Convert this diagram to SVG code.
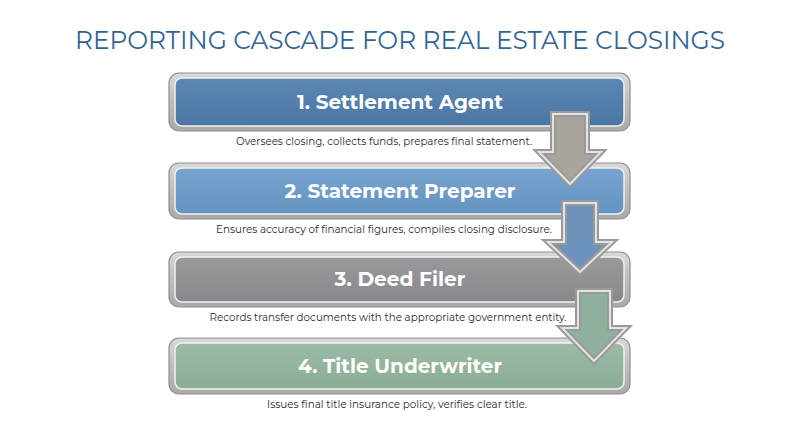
<svg xmlns="http://www.w3.org/2000/svg" width="800" height="447" viewBox="0 0 800 447">
<defs>
<linearGradient id="silver" x1="0" y1="0" x2="0" y2="1">
<stop offset="0" stop-color="#d9d9d9"/><stop offset="0.5" stop-color="#bdbdbd"/><stop offset="1" stop-color="#a9a9a9"/>
</linearGradient>
<linearGradient id="g1" x1="0" y1="0" x2="0" y2="1"><stop offset="0" stop-color="#5d87b3"/><stop offset="1" stop-color="#4b76a4"/></linearGradient>
<linearGradient id="g2" x1="0" y1="0" x2="0" y2="1"><stop offset="0" stop-color="#77a3cf"/><stop offset="1" stop-color="#6594c2"/></linearGradient>
<linearGradient id="g3" x1="0" y1="0" x2="0" y2="1"><stop offset="0" stop-color="#9a9a9e"/><stop offset="1" stop-color="#88888c"/></linearGradient>
<linearGradient id="g4" x1="0" y1="0" x2="0" y2="1"><stop offset="0" stop-color="#9cbba6"/><stop offset="1" stop-color="#8aac96"/></linearGradient>
</defs>
<style>
.frame{fill:url(#silver);stroke:#8f8f8f;stroke-width:1.2}
.inner{stroke:#f2f2f2;stroke-width:1.5}
.label{font-family:Montserrat,Inter,"Open Sans",sans-serif;font-weight:700;font-size:20px;fill:#ffffff;text-anchor:middle}
.desc{font-family:Montserrat,Inter,"Open Sans",sans-serif;font-size:11px;fill:#2b2b2b;text-anchor:middle}
.title{font-family:Montserrat,Inter,"Open Sans",sans-serif;font-size:26px;fill:#2f6596;text-anchor:middle}
.aout{stroke:#9a9a9a;stroke-width:6;stroke-linejoin:miter}
.ain{fill:none;stroke:#e4e4e4;stroke-width:2;stroke-linejoin:miter}
</style>
<rect width="800" height="447" fill="#ffffff"/>
<text class="title" x="400" y="49" textLength="650" lengthAdjust="spacingAndGlyphs">REPORTING CASCADE FOR REAL ESTATE CLOSINGS</text>

<g id="node1">
<rect class="frame" x="169" y="73" width="461" height="58" rx="10"/>
<rect class="inner" x="175" y="78" width="449" height="48" rx="7" fill="url(#g1)"/>
<text class="label" x="400" y="109" textLength="206" lengthAdjust="spacingAndGlyphs">1. Settlement Agent</text>
<text class="desc" x="384" y="145" textLength="296" lengthAdjust="spacingAndGlyphs">Oversees closing, collects funds, prepares final statement.</text>
</g>
<g id="node2">
<rect class="frame" x="169" y="163" width="461" height="56" rx="10"/>
<rect class="inner" x="175" y="168" width="449" height="46" rx="7" fill="url(#g2)"/>
<text class="label" x="400" y="198" textLength="231" lengthAdjust="spacingAndGlyphs">2. Statement Preparer</text>
<text class="desc" x="384" y="233" textLength="336" lengthAdjust="spacingAndGlyphs">Ensures accuracy of financial figures, compiles closing disclosure.</text>
</g>
<g id="node3">
<rect class="frame" x="169" y="252" width="461" height="55" rx="10"/>
<rect class="inner" x="175" y="257" width="449" height="45" rx="7" fill="url(#g3)"/>
<text class="label" x="400" y="286" textLength="131" lengthAdjust="spacingAndGlyphs">3. Deed Filer</text>
<text class="desc" x="388" y="321" textLength="357" lengthAdjust="spacingAndGlyphs">Records transfer documents with the appropriate government entity.</text>
</g>
<g id="node4">
<rect class="frame" x="169" y="338" width="461" height="56" rx="10"/>
<rect class="inner" x="175" y="343" width="449" height="46" rx="7" fill="url(#g4)"/>
<text class="label" x="400" y="373" textLength="204" lengthAdjust="spacingAndGlyphs">4. Title Underwriter</text>
<text class="desc" x="397" y="408" textLength="260" lengthAdjust="spacingAndGlyphs">Issues final title insurance policy, verifies clear title.</text>
</g>

<g id="connectors">
<polygon class="aout" fill="#a9a59d" points="553,114 587,114 587,152 601,152 570,184 539,152 553,152"/>
<polygon class="ain" points="553,114 587,114 587,152 601,152 570,184 539,152 553,152"/>
<polygon class="aout" fill="#6b93bb" points="564,203 596,203 596,242 612,242 580,272 548,242 564,242"/>
<polygon class="ain" points="564,203 596,203 596,242 612,242 580,272 548,242 564,242"/>
<polygon class="aout" fill="#8fb09c" points="578,291 610,291 610,328 626,328 594,361 562,328 578,328"/>
<polygon class="ain" points="578,291 610,291 610,328 626,328 594,361 562,328 578,328"/>
</g>
</svg>
